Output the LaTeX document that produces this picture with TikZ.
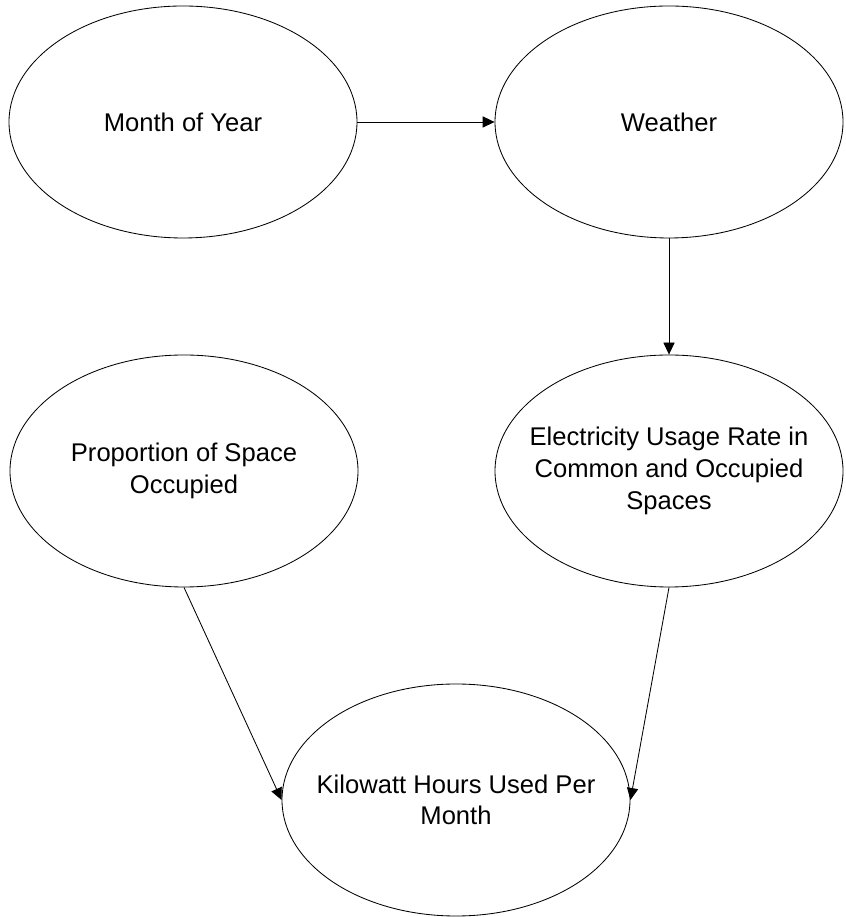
\documentclass[tikz,border=0pt]{standalone}
\usepackage{fontspec}
\setmainfont{Liberation Sans}
\usepackage{tikz}
\usetikzlibrary{shapes.geometric,arrows.meta}

\begin{document}
\begin{tikzpicture}[
    factor/.style={draw, ellipse, line width=0.6pt, minimum width=8.7cm, minimum height=5.8cm,
      inner xsep=-1.5cm, inner ysep=0pt, align=center, font=\fontsize{18.2pt}{22.5pt}\selectfont},
    link/.style={-{Triangle[length=0.3cm, width=0.28cm]}, line width=0.6pt}]
      \useasboundingbox (0, 0) rectangle (21.125, 22.925);
      \node[factor] (month) at (4.575, 19.875) {Month of Year};
      \node[factor] (weather) at (16.725, 19.875) {Weather};
      \node[factor] (occupied) at (4.6, 11.15) {Proportion of Space\\Occupied};
      \node[factor] (usage) at (16.725, 11.15) {Electricity Usage Rate in\\Common and Occupied\\Spaces};
      \node[factor] (kwh) at (11.4, 2.925) {Kilowatt Hours Used Per\\Month};
      \draw[link] (month.east) -- (weather.west);
      \draw[link] (weather.south) -- (usage.north);
      \draw[link] (occupied.south) -- (kwh.west);
      \draw[link] (usage.south) -- (kwh.east);
    \end{tikzpicture}
\end{document}
